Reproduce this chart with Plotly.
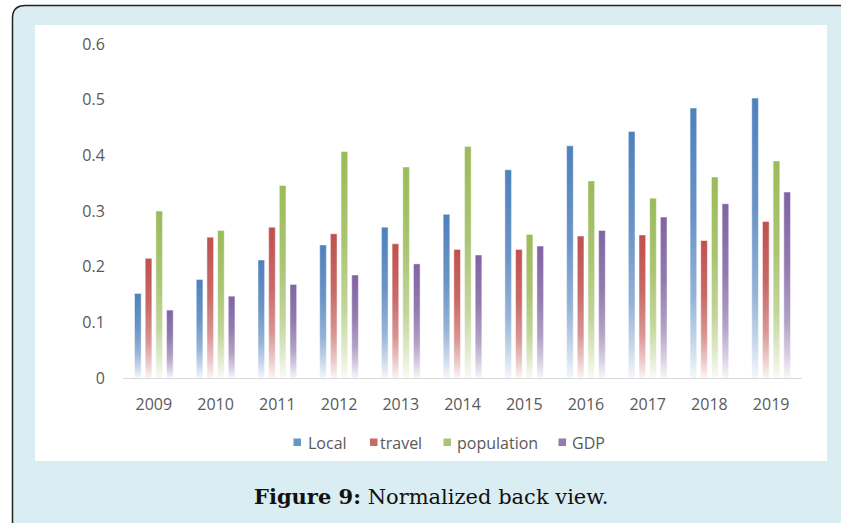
import plotly.graph_objects as go

years = ["2009", "2010", "2011", "2012", "2013", "2014", "2015", "2016", "2017", "2018", "2019"]
local = [0.152, 0.177, 0.212, 0.239, 0.271, 0.294, 0.374, 0.417, 0.443, 0.485, 0.503]
travel = [0.215, 0.253, 0.271, 0.259, 0.241, 0.231, 0.231, 0.255, 0.257, 0.247, 0.281]
population = [0.300, 0.265, 0.346, 0.407, 0.379, 0.416, 0.258, 0.354, 0.323, 0.361, 0.390]
gdp = [0.122, 0.147, 0.168, 0.185, 0.205, 0.221, 0.237, 0.265, 0.289, 0.313, 0.334]
y_ticks = [0, 0.1, 0.2, 0.3, 0.4, 0.5, 0.6]
names = ["Local", "travel", "population", "GDP"]

colors = [(79, 129, 189), (192, 80, 77), (155, 187, 89), (128, 100, 162)]
series = list(zip(names, [local, travel, population, gdp], colors))

W, H = 841, 523
L, R, T, B = 123, 39, 44, 145


def px(x):
    return (x - L) / (W - L - R)


def py(y):
    return (H - B - y) / (H - T - B)


def mix(c, t):
    return "rgb(%d,%d,%d)" % tuple(round(255 * (1 - t) + ci * t) for ci in c)


def cscale(c):
    return [[0, mix(c, 0.06)], [0.12, mix(c, 0.3)], [0.3, mix(c, 0.6)],
            [0.6, mix(c, 0.85)], [1, mix(c, 1.0)]]


fig = go.Figure()
step = 0.173
hw = 0.054
for k, (name, vals, col) in enumerate(series):
    for i, v in enumerate(vals):
        c = i + (k - 1.5) * step
        fig.add_trace(go.Scatter(
            x=[c - hw, c + hw, c + hw, c - hw, c - hw],
            y=[0, 0, v, v, 0],
            mode="lines", fill="toself", name=name,
            fillgradient=dict(type="vertical", colorscale=cscale(col), start=0, stop=v),
            line=dict(width=0.8, color="rgba(255,255,255,0.6)"),
            showlegend=False, hoverinfo="skip"))

fig.update_layout(
    width=W, height=H,
    margin=dict(l=L, r=R, t=T, b=B),
    paper_bgcolor="white",
    plot_bgcolor="rgba(0,0,0,0)",
    font=dict(family="Open Sans", size=16, color="#595959"),
    xaxis=dict(range=[-0.5, 10.5], tickvals=list(range(len(years))), ticktext=years,
               showgrid=False, zeroline=False, showline=True, linecolor="#d9d9d9",
               linewidth=1, ticks="outside", ticklen=12, tickcolor="rgba(0,0,0,0)",
               fixedrange=True),
    yaxis=dict(range=[0, 0.6], tickvals=y_ticks, ticktext=["0", "0.1", "0.2", "0.3", "0.4", "0.5", "0.6"],
               showgrid=False, zeroline=False, showline=False,
               ticks="outside", ticklen=14, tickcolor="rgba(0,0,0,0)", fixedrange=True),
    showlegend=False,
)

# light-blue panel with rounded border
path = "M %f,%f L %f,%f Q %f,%f %f,%f L %f,%f L %f,%f Z" % (
    px(12.5), py(540), px(12.5), py(18), px(12.5), py(5.5), px(25.5), py(5.5),
    px(860), py(5.5), px(860), py(540))
fig.add_shape(type="path", xref="paper", yref="paper", path=path,
              fillcolor="rgb(218,237,242)",
              line=dict(color="#222222", width=1.5), layer="below")
# white chart area
fig.add_shape(type="rect", xref="paper", yref="paper",
              x0=px(35), x1=px(827), y0=py(461), y1=py(25),
              fillcolor="white", line=dict(width=0), layer="below")

# legend
icon_x = [293.5, 370, 443.5, 558.5]
text_x = [306, 378, 454.5, 570]
for name, col, ix, tx in zip(names, colors, icon_x, text_x):
    fig.add_shape(type="rect", xref="paper", yref="paper",
                  x0=px(ix), x1=px(ix + 7.5), y0=py(446), y1=py(438.5),
                  fillcolor=mix(col, 0.85), line=dict(width=0))
    fig.add_annotation(xref="paper", yref="paper", x=px(tx), y=py(443),
                       xanchor="left", yanchor="middle", showarrow=False,
                       text=name, font=dict(size=16, color="#595959"))

fig.add_annotation(xref="paper", yref="paper", x=px(431), y=py(496),
                   xanchor="center", yanchor="middle", showarrow=False,
                   text="<b>Figure 9:</b> Normalized back view.",
                   font=dict(family="DejaVu Serif", size=21, color="#111111"))

fig.write_html("out.html", post_script="document.body.style.margin='0px';",
               config={"displayModeBar": False})
